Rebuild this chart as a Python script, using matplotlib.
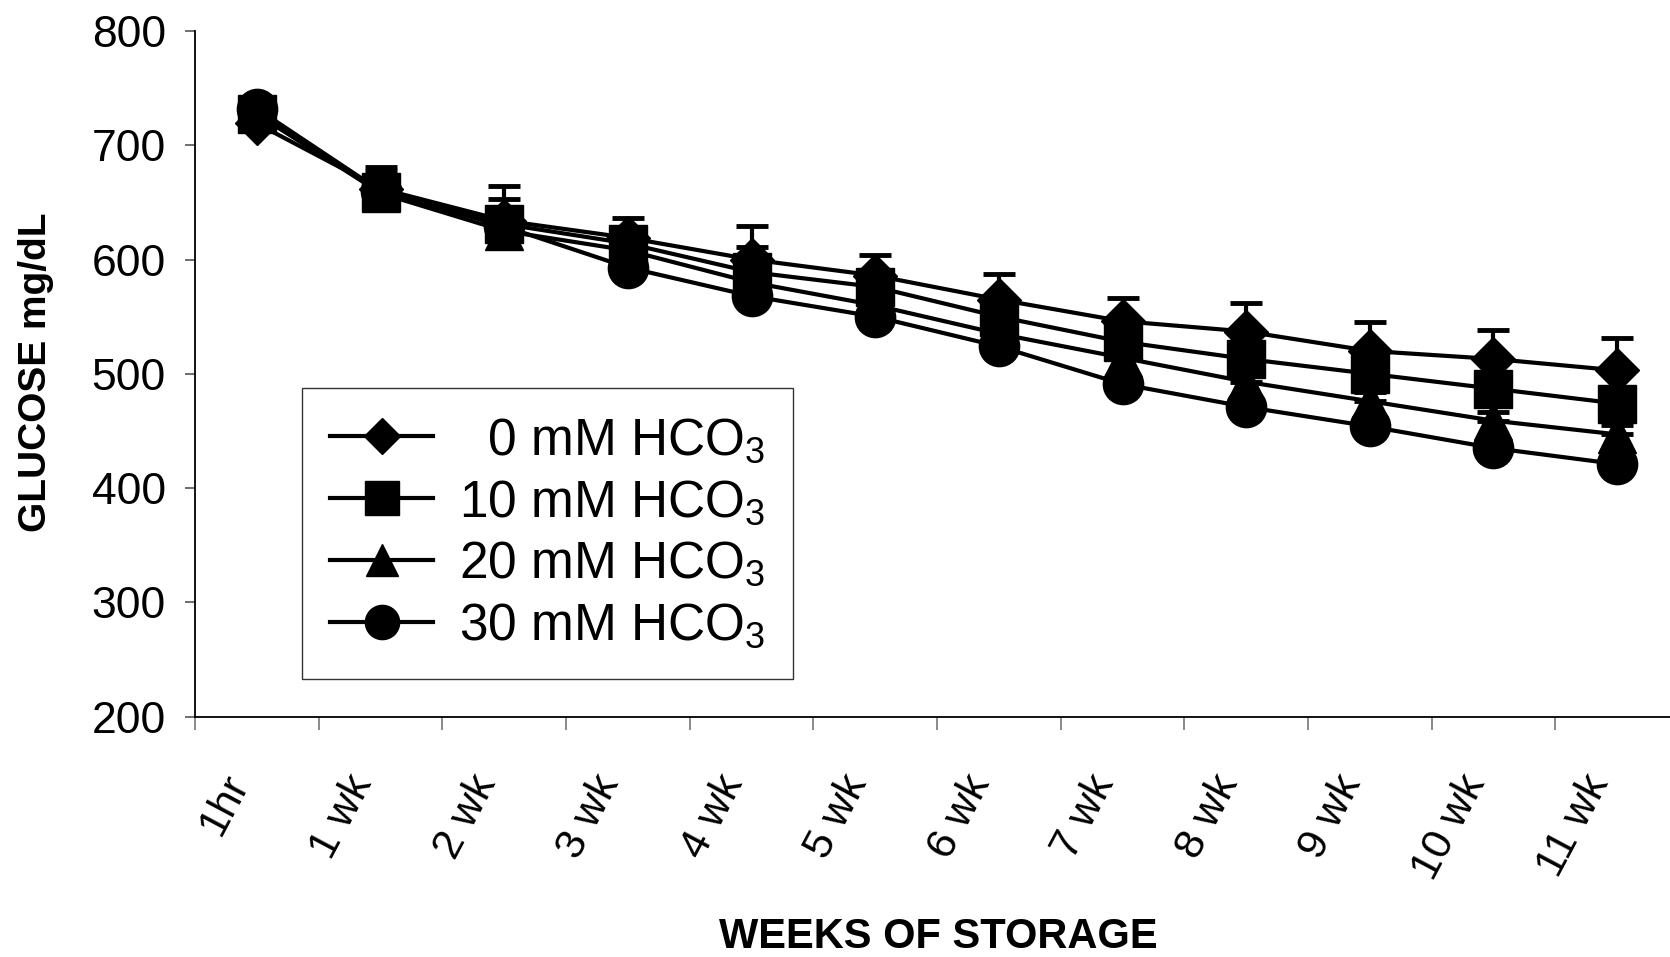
import matplotlib
matplotlib.use("Agg")
import matplotlib.pyplot as plt
import numpy as np

plt.rcParams['font.family'] = ['Liberation Sans', 'DejaVu Sans']
plt.rcParams['mathtext.default'] = 'regular'

weeks = ['1hr', '1 wk', '2 wk', '3 wk', '4 wk', '5 wk', '6 wk',
         '7 wk', '8 wk', '9 wk', '10 wk', '11 wk']

# glucose mg/dL per HCO3 level
gluc_0 = [719, 662, 634, 619, 600, 586, 565, 546, 537, 520, 513, 503]
gluc_10 = [727, 659, 631, 614, 589, 576, 550, 528, 513, 500, 487, 474]
gluc_20 = [728, 658, 625, 608, 580, 560, 535, 514, 493, 476, 459, 447]
gluc_30 = [732, 660, 629, 593, 568, 550, 524, 491, 471, 454, 435, 421]

# upper error bars (only the ones above the top marker show)
err_0 = [10, 19, 30, 17, 29, 18, 22, 20, 25, 25, 25, 28]
err_10 = [8, 18, 22, 10, 22, 10, 10, 10, 10, 10, 10, 10]
err_20 = [8, 8, 8, 8, 8, 8, 8, 8, 8, 8, 8, 8]
err_30 = [8, 8, 8, 8, 8, 8, 8, 8, 8, 8, 8, 8]

labels = ['  0 mM HCO$_3$', '10 mM HCO$_3$', '20 mM HCO$_3$', '30 mM HCO$_3$']
series = [gluc_0, gluc_10, gluc_20, gluc_30]
errors = [err_0, err_10, err_20, err_30]
markers = ['D', 's', '^', 'o']
msizes = [22, 28, 27, 29]

fig = plt.figure(figsize=(16.7, 9.57), dpi=100)
ax = fig.add_axes([195 / 1670, 0.2511, 1484 / 1670, 0.7166])

x = np.arange(len(weeks))
handles = []
for y, e in zip(series, errors):
    ax.errorbar(x, y, yerr=[np.zeros(len(e)), e], fmt='none', ecolor='black',
                elinewidth=3, capsize=11.5, capthick=3.5, zorder=1)
for y, m, ms, lab in zip(series, markers, msizes, labels):
    ln, = ax.plot(x, y, color='black', linewidth=3, marker=m, markersize=ms,
                  markerfacecolor='black', markeredgecolor='black', label=lab,
                  zorder=2)
    handles.append(ln)

ax.set_ylim(200, 800)
ax.set_yticks(range(200, 801, 100))
ax.set_xlim(-0.5, len(weeks) - 0.5)
ax.set_xticks(np.arange(-0.5, len(weeks), 1.0))
ax.set_xticklabels([])
ax.set_xticks(x, minor=True)
ax.set_xticklabels(weeks, minor=True, rotation=62, ha='right', va='top')

for s in ['top', 'right']:
    ax.spines[s].set_visible(False)
for s in ['left', 'bottom']:
    ax.spines[s].set_linewidth(1.3)

ax.tick_params(axis='y', which='major', length=7, width=1.2, color='#555555',
               labelsize=32, pad=14)
ax.tick_params(axis='x', which='major', length=9, width=1.2, color='#777777')
ax.tick_params(axis='x', which='minor', length=0, labelsize=31, pad=37)

fig.text(36 / 1670, 1 - 372 / 957, 'GLUCOSE mg/dL', rotation=90, ha='center',
         va='center', fontsize=28, fontweight='bold')
fig.text(938 / 1670, 1 - 937 / 957, 'WEEKS OF STORAGE', ha='center', va='center',
         fontsize=30, fontweight='bold')

leg = fig.legend(handles=handles, loc='upper left',
                 bbox_to_anchor=(302 / 1670, 1 - 388 / 957),
                 fontsize=37, frameon=True, fancybox=False, markerscale=0.85,
                 handlelength=2.0, handletextpad=0.5, labelspacing=0.25,
                 borderpad=0.55, borderaxespad=0)
leg.get_frame().set_edgecolor('black')
leg.get_frame().set_linewidth(1.0)

fig.savefig('out.png', dpi=100)
